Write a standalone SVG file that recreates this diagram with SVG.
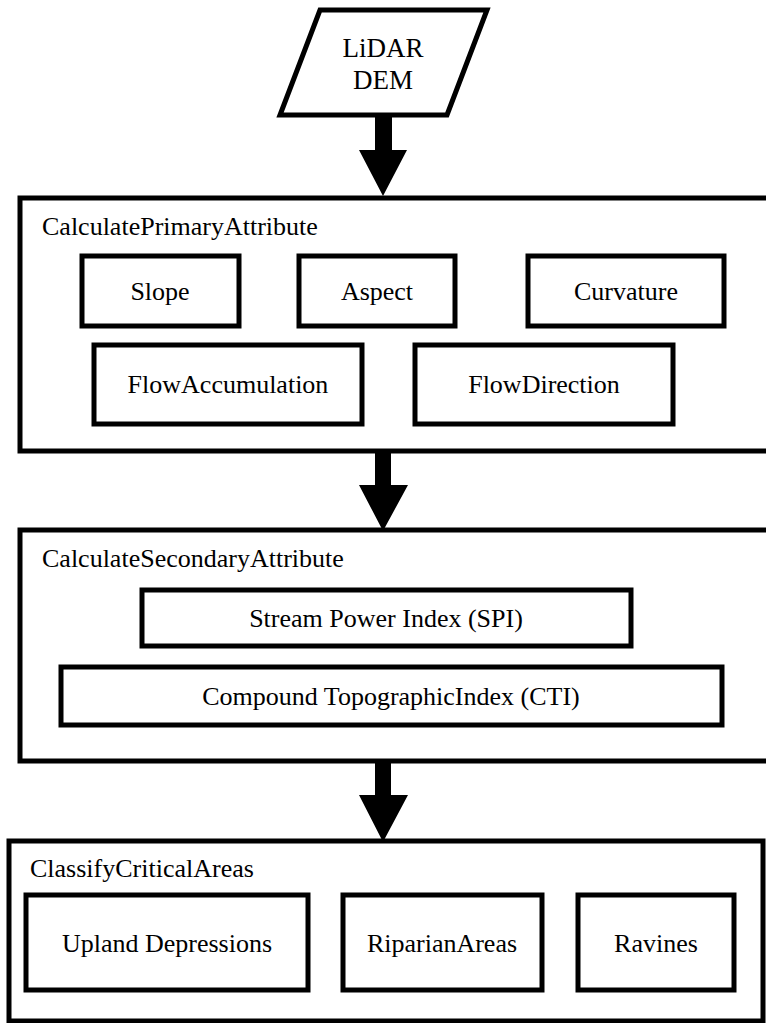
<svg xmlns="http://www.w3.org/2000/svg" width="766" height="1023" viewBox="0 0 766 1023">
<style>
.box{fill:#fff;stroke:#000;stroke-width:5}
text{font-family:'Liberation Serif','Times New Roman',serif;font-size:26px;fill:#000}
.c{text-anchor:middle}
.arr{fill:#000;stroke:none}
</style>
<rect width="766" height="1023" fill="#fff"/>
<g id="lidar">
<polygon class="box" points="320,10 487,10 447,115 280,115"/>
<text class="c" x="383" y="57" style="font-size:27px">LiDAR</text>
<text class="c" x="383" y="89" style="font-size:27px">DEM</text>
</g>
<g id="primary">
<rect class="box" x="20" y="198" width="770" height="253"/>
<text x="42" y="235">CalculatePrimaryAttribute</text>
<g id="slope"><rect class="box" x="82" y="256" width="157" height="70"/><text class="c" x="160" y="300">Slope</text></g>
<g id="aspect"><rect class="box" x="299" y="256" width="156" height="70"/><text class="c" x="377" y="300">Aspect</text></g>
<g id="curvature"><rect class="box" x="528" y="256" width="196" height="70"/><text class="c" x="626" y="300">Curvature</text></g>
<g id="flowacc"><rect class="box" x="94" y="345" width="268" height="79"/><text class="c" x="228" y="393">FlowAccumulation</text></g>
<g id="flowdir"><rect class="box" x="415" y="345" width="258" height="79"/><text class="c" x="544" y="393">FlowDirection</text></g>
</g>
<g id="secondary">
<rect class="box" x="20" y="530" width="770" height="231"/>
<text x="42" y="567">CalculateSecondaryAttribute</text>
<g id="spi"><rect class="box" x="142" y="590" width="489" height="56"/><text class="c" x="386" y="627">Stream Power Index (SPI)</text></g>
<g id="cti"><rect class="box" x="61" y="667" width="661" height="58"/><text class="c" x="391" y="705">Compound TopographicIndex (CTI)</text></g>
</g>
<g id="classify">
<rect class="box" x="9" y="841" width="754" height="180"/>
<text x="30" y="877">ClassifyCriticalAreas</text>
<g id="upland"><rect class="box" x="26" y="895" width="282" height="95"/><text class="c" x="167" y="952">Upland Depressions</text></g>
<g id="riparian"><rect class="box" x="343" y="895" width="199" height="95"/><text class="c" x="442" y="952">RiparianAreas</text></g>
<g id="ravines"><rect class="box" x="578" y="895" width="156" height="95"/><text class="c" x="656" y="952">Ravines</text></g>
</g>
<g id="connectors">
<polygon class="arr" points="375,113 392,113 392,150 407,150 383,196 359,150 375,150"/>
<polygon class="arr" points="375,450 391,450 391,485 408,485 383,531 359,485 375,485"/>
<polygon class="arr" points="375,760 391,760 391,795 408,795 383,842 359,795 375,795"/>
</g>
</svg>
